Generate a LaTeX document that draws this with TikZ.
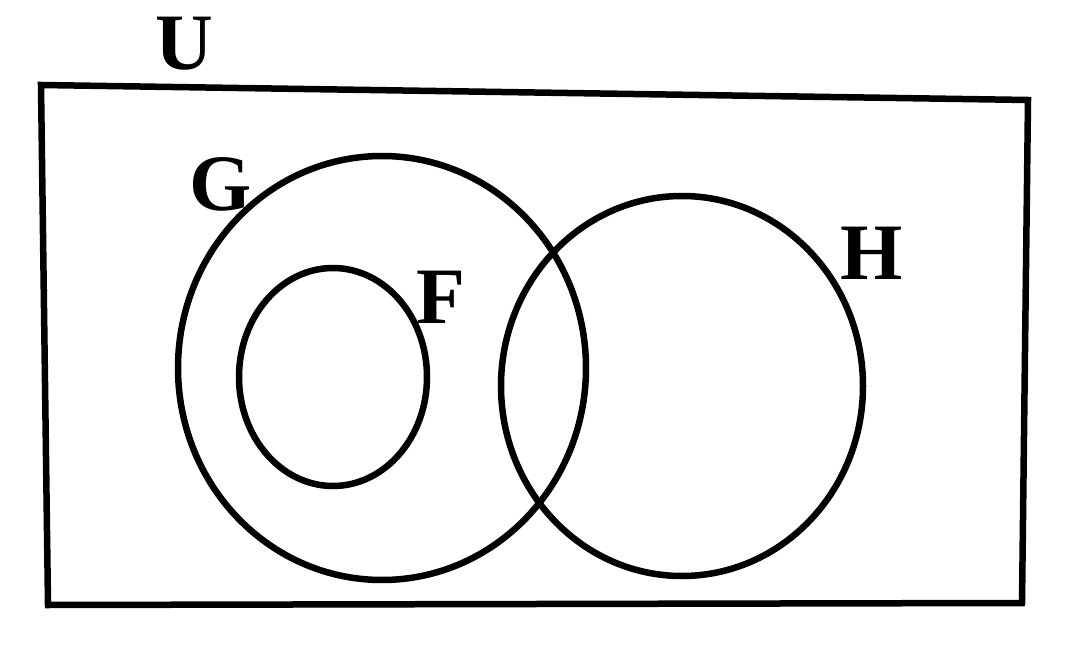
\documentclass[tikz,border=0pt]{standalone}
\usepackage{fontspec}
\setmainfont{Liberation Serif}
\begin{document}
\begin{tikzpicture}[x=1pt,y=-1pt,
  setline/.style={line width=6.5pt},
  setlabel/.style={font=\fontsize{80}{80}\selectfont\bfseries, inner sep=0pt, anchor=center}]
\useasboundingbox (0,0) rectangle (1080,666);
\draw[setline, line join=miter] (41,85) -- (1028,100) -- (1022,603) -- (48,605) -- cycle;
\draw[setline] (382,368) ellipse [x radius=204, y radius=212];
\draw[setline] (333,377) ellipse [x radius=94, y radius=109];
\draw[setline] (682,386) ellipse [x radius=181, y radius=190];
\node[setlabel] (U) at (184,44) {U};
\node[setlabel] (G) at (221,184) {G};
\node[setlabel] (F) at (441,297) {F};
\node[setlabel] (H) at (872,253) {H};
\end{tikzpicture}
\end{document}
